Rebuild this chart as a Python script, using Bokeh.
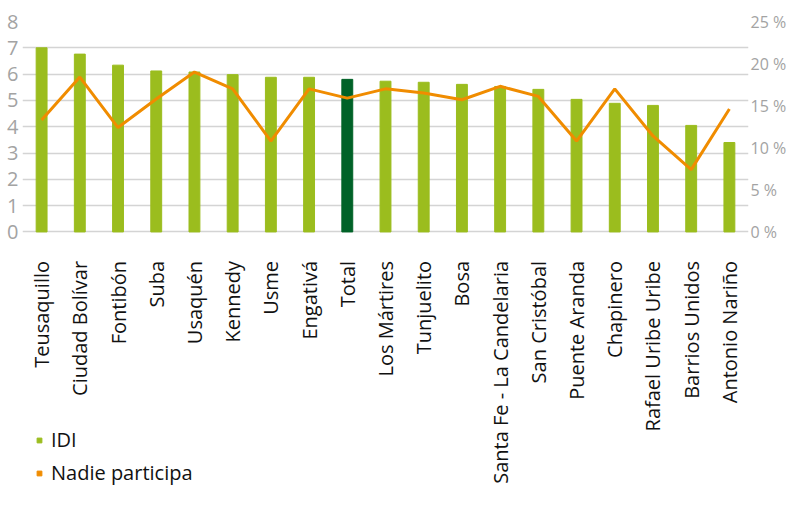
import math
from bokeh.plotting import figure
from bokeh.models import (ColumnDataSource, FactorRange, Range1d, LinearAxis, FixedTicker,
                          PrintfTickFormatter, Legend, LegendItem)
from bokeh.core.properties import value
from bokeh.embed import file_html
from bokeh.resources import INLINE

categories = ["Teusaquillo", "Ciudad Bolívar", "Fontibón", "Suba", "Usaquén", "Kennedy",
              "Usme", "Engativá", "Total", "Los Mártires", "Tunjuelito", "Bosa",
              "Santa Fe - La Candelaria", "San Cristóbal", "Puente Aranda", "Chapinero",
              "Rafael Uribe Uribe", "Barrios Unidos", "Antonio Nariño"]
idi = [7.0, 6.76, 6.34, 6.12, 6.08, 5.98, 5.88, 5.88, 5.80, 5.73, 5.69, 5.61,
       5.53, 5.42, 5.04, 4.89, 4.81, 4.05, 3.40]
nadie_participa = [13.3, 18.4, 12.4, 15.8, 19.0, 17.0, 10.8, 17.0, 15.9, 17.0, 16.5, 15.7,
                   17.3, 16.1, 10.8, 17.0, 11.4, 7.4, 14.6]
left_ticks = [0, 1, 2, 3, 4, 5, 6, 7, 8]
right_ticks = [0, 5, 10, 15, 20, 25]

LIGHT = "#9BBD1E"
DARK = "#006228"
ORANGE = "#F08C00"
GRID = "#D4D4D4"
TICK = "#A3A3A3"
FONT = "Open Sans"

# plot frame reaches the bottom of the page; the value axes cover its upper part
LEFT_MAX = 8
RIGHT_MAX = 25
BELOW_FRACTION = 257 / 210   # extra room below zero (category labels, legend)

colors = [DARK if c == "Total" else LIGHT for c in categories]
base = [0] * len(categories)
src = ColumnDataSource(dict(cat=categories, idi=idi, pct=nadie_participa, color=colors, base=base))

p = figure(width=789, height=489, x_range=FactorRange(factors=categories, range_padding=0),
           y_range=Range1d(-LEFT_MAX * BELOW_FRACTION, LEFT_MAX),
           output_backend="svg", toolbar_location=None,
           min_border_left=22, min_border_right=30, min_border_top=21, min_border_bottom=0)
p.extra_y_ranges = {"pct": Range1d(-RIGHT_MAX * BELOW_FRACTION, RIGHT_MAX)}
p.outline_line_color = None
p.background_fill_color = "white"
p.border_fill_color = "white"

# grid
p.xgrid.grid_line_color = None
p.ygrid.grid_line_color = GRID
p.ygrid.grid_line_width = 1.5
p.ygrid.ticker = FixedTicker(ticks=left_ticks)

p.vbar(x="cat", top="idi", bottom="base", width=0.285, color="color", source=src)
p.line(x="cat", y="pct", source=src, y_range_name="pct", line_color=ORANGE, line_width=3)

# category labels
p.text(x="cat", y="base", text="cat", source=src, angle=math.pi / 2, y_offset=29,
       text_align="right", text_baseline="middle", text_font=value(FONT),
       text_font_size="20px", text_color="#111111")

# left axis
ya = p.yaxis[0]
ya.ticker = FixedTicker(ticks=left_ticks)
ya.axis_line_color = None
ya.major_tick_line_color = None
ya.major_tick_out = 0
ya.minor_tick_line_color = None
ya.major_label_text_color = TICK
ya.major_label_text_font = FONT
ya.major_label_text_font_size = "20px"
ya.major_label_standoff = 4

# right axis
ra = LinearAxis(y_range_name="pct", ticker=FixedTicker(ticks=right_ticks),
                formatter=PrintfTickFormatter(format="%d %%"))
ra.axis_line_color = None
ra.major_tick_line_color = None
ra.major_tick_out = 0
ra.minor_tick_line_color = None
ra.major_label_text_color = TICK
ra.major_label_text_font = FONT
ra.major_label_text_font_size = "16px"
ra.major_label_standoff = 2
p.add_layout(ra, "right")

p.xaxis.visible = False

# legend (markers only; their point is not drawn)
key_src = ColumnDataSource(dict(x=[categories[0]], y=[float("nan")]))
r1 = p.scatter(x="x", y="y", source=key_src, marker="square", size=9, color=LIGHT)
r2 = p.scatter(x="x", y="y", source=key_src, marker="square", size=9, color=ORANGE)
legend = Legend(items=[LegendItem(label="IDI", renderers=[r1]),
                       LegendItem(label="Nadie participa", renderers=[r2])],
                location=(11, 3), orientation="vertical",
                background_fill_alpha=0, border_line_alpha=0, padding=0, margin=0,
                spacing=6, glyph_width=12, glyph_height=16, label_height=16,
                label_standoff=6, label_text_font=FONT, label_text_font_size="20px",
                label_text_color="#111111")
p.add_layout(legend, "center")

open("out.html", "w").write(file_html(p, INLINE))
